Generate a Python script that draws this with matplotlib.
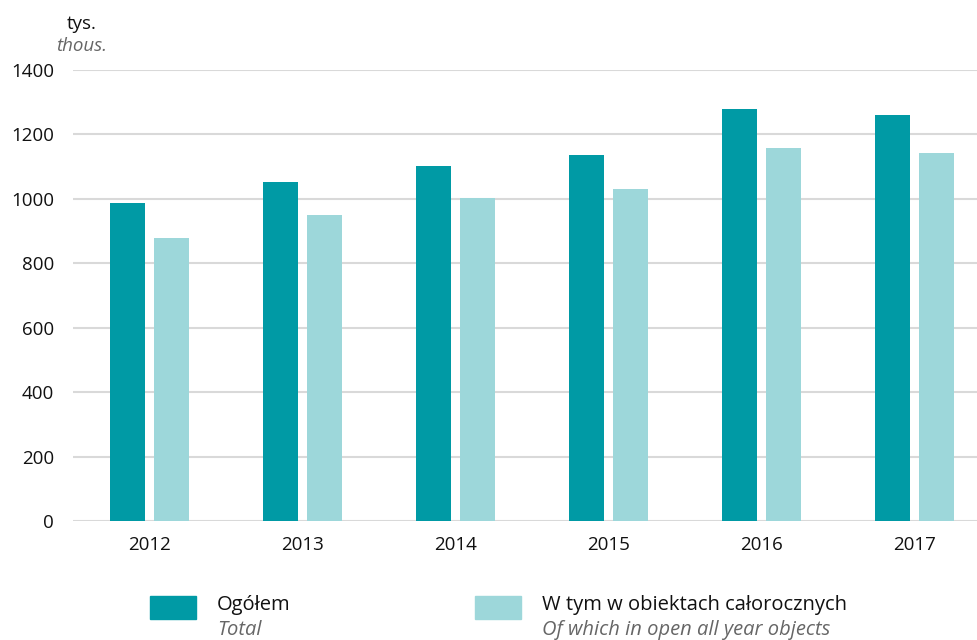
import matplotlib
matplotlib.use('Agg')
import matplotlib.pyplot as plt
import numpy as np

plt.rcParams['font.family'] = ['Open Sans', 'DejaVu Sans']

years = ['2012', '2013', '2014', '2015', '2016', '2017']
total = [987, 1052, 1102, 1136, 1279, 1261]
allYear = [879, 949, 1003, 1030, 1158, 1142]

darkColor = '#009aa5'
lightColor = '#9dd7da'

fig = plt.figure(figsize=(9.78, 6.4), dpi=100)
# axes run a little past the right edge, the gridlines are cut by the figure
ax = fig.add_axes([73/978, 1-521/640, 918/978, (521-70)/640])

x = np.arange(len(years))
w = 0.228
ax.bar(x - 0.144, total, width=w, color=darkColor, zorder=3)
ax.bar(x + 0.144, allYear, width=w, color=lightColor, zorder=3)

ax.set_xlim(-0.5, 5.5)
ax.set_ylim(0, 1400)
ax.set_yticks(range(0, 1401, 200))
ax.set_xticks(x)
ax.set_xticklabels(years)
ax.grid(axis='y', color='#d9d9d9', linewidth=1.5, zorder=0)
for s in ax.spines.values():
    s.set_visible(False)
ax.tick_params(axis='both', length=0, labelsize=13.5, colors='#111111')
ax.tick_params(axis='y', pad=13.5)
ax.tick_params(axis='x', pad=11)

#unit labels
fig.text(82/978, 1-24/640, 'tys.', ha='center', va='center', fontsize=13.5, color='#111111')
fig.text(82/978, 1-46/640, 'thous.', ha='center', va='center', fontsize=13.5, color='#666666', style='italic')

#legend drawn by hand
def legendItem(px, color, label, sub):
    fig.patches.append(plt.Rectangle((px/978, 1-619/640), 46/978, 23/640, transform=fig.transFigure, color=color))
    fig.text((px+67)/978, 1-605/640, label, ha='left', va='center', fontsize=14.5, color='#111111')
    fig.text((px+67)/978, 1-630/640, sub, ha='left', va='center', fontsize=14.5, color='#666666', style='italic')

legendItem(150, darkColor, 'Ogółem', 'Total')
legendItem(475, lightColor, 'W tym w obiektach całorocznych', 'Of which in open all year objects')

fig.savefig('out.png', dpi=100)
